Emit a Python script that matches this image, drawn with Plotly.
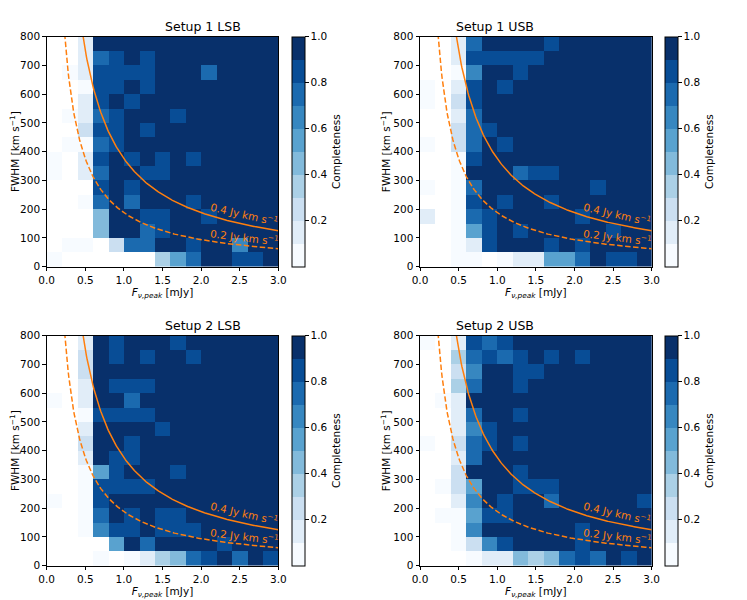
import numpy as np
import plotly.graph_objects as go
from plotly.subplots import make_subplots

# bin centres: peak flux density [mJy] and FWHM [km/s] (rows listed top -> bottom)
flux_bins = [0.1, 0.3, 0.5, 0.7, 0.9, 1.1, 1.3, 1.5, 1.7, 1.9, 2.1, 2.3, 2.5, 2.7, 2.9]
fwhm_bins = [775, 725, 675, 625, 575, 525, 475, 425, 375, 325, 275, 225, 175, 125, 75, 25]

N = None  # empty bin

setup1_lsb = [
    [N, N, .15, 1, 1, 1, 1, 1, 1, 1, 1, 1, 1, 1, 1],
    [N, N, .15, .75, .85, 1, .85, 1, 1, 1, 1, 1, 1, 1, 1],
    [N, .05, .15, .85, .85, .85, .85, 1, 1, 1, .75, 1, 1, 1, 1],
    [N, N, .05, .85, .85, 1, .85, 1, 1, 1, 1, 1, 1, 1, 1],
    [N, N, .15, .85, 1, .85, 1, 1, 1, 1, 1, 1, 1, 1, 1],
    [N, .05, .15, .75, .85, 1, 1, 1, .85, 1, 1, 1, 1, 1, 1],
    [N, N, .25, .85, .85, 1, .85, 1, 1, 1, 1, 1, 1, 1, 1],
    [N, .05, .05, .75, .85, 1, 1, 1, 1, 1, 1, 1, 1, 1, 1],
    [.05, N, .15, .85, 1, .85, 1, .85, 1, .85, 1, 1, 1, 1, 1],
    [.05, N, .15, .75, 1, 1, .85, .85, 1, 1, 1, 1, 1, 1, 1],
    [N, N, N, .85, 1, .85, 1, 1, 1, 1, 1, 1, 1, 1, 1],
    [N, N, .05, .75, 1, .75, 1, 1, 1, .85, 1, 1, 1, 1, 1],
    [N, N, N, .45, 1, 1, .85, .85, 1, 1, .85, 1, 1, 1, 1],
    [N, N, N, .45, 1, 1, .75, .85, 1, 1, 1, 1, 1, 1, 1],
    [N, .05, .05, N, .25, .75, .75, 1, 1, .85, 1, 1, .65, 1, 1],
    [.05, N, N, N, N, N, N, .35, .55, .75, 1, 1, .85, .85, 1],
]

setup1_usb = [
    [N, N, .15, .75, 1, 1, 1, 1, .85, 1, 1, 1, 1, 1, 1],
    [N, N, .15, .85, .85, .85, .85, .85, 1, 1, 1, 1, 1, 1, 1],
    [N, N, .05, .65, 1, 1, .85, 1, 1, 1, 1, 1, 1, 1, 1],
    [.05, N, .15, .85, 1, .85, 1, 1, 1, 1, 1, 1, 1, 1, 1],
    [.05, N, .25, .85, 1, 1, 1, 1, 1, 1, 1, 1, 1, 1, 1],
    [N, N, .15, .75, 1, 1, 1, 1, 1, 1, 1, 1, 1, 1, 1],
    [N, N, .25, .75, .85, 1, 1, 1, 1, 1, 1, 1, 1, 1, 1],
    [.05, N, .25, .75, 1, .85, 1, 1, 1, 1, 1, 1, 1, 1, 1],
    [N, N, .05, .85, 1, 1, 1, 1, 1, 1, 1, 1, 1, 1, 1],
    [N, N, .05, 1, 1, 1, .75, .85, .85, 1, 1, 1, 1, 1, 1],
    [.05, N, .05, .75, 1, 1, 1, 1, 1, 1, 1, .85, 1, 1, 1],
    [N, N, .05, .85, 1, .85, 1, 1, .85, 1, 1, 1, 1, 1, 1],
    [.15, N, .05, .75, .85, 1, 1, 1, 1, 1, .85, 1, 1, 1, 1],
    [N, N, .05, .55, .85, 1, .85, 1, 1, 1, 1, 1, .85, 1, 1],
    [N, N, .05, .15, .85, 1, 1, 1, .85, 1, .85, 1, 1, 1, 1],
    [N, N, .05, .05, N, .05, .15, .15, .5, .55, .75, 1, .85, .85, 1],
]

setup2_lsb = [
    [N, N, .15, 1, .85, 1, 1, 1, .85, 1, 1, 1, 1, 1, 1],
    [N, N, .25, 1, .85, 1, .85, 1, 1, .85, 1, 1, 1, 1, 1],
    [N, N, .25, 1, 1, 1, 1, 1, 1, 1, 1, 1, 1, 1, 1],
    [N, N, .15, 1, .85, .85, .85, 1, 1, 1, 1, 1, 1, 1, 1],
    [.05, N, .15, 1, 1, .75, 1, 1, 1, 1, 1, 1, 1, 1, 1],
    [N, N, .05, .85, .85, .85, .85, 1, 1, 1, 1, 1, 1, 1, 1],
    [N, N, .15, 1, 1, 1, 1, .85, 1, 1, 1, 1, 1, 1, 1],
    [N, N, .25, 1, 1, .85, 1, 1, 1, 1, 1, 1, 1, 1, 1],
    [N, N, .15, 1, .85, .85, 1, 1, 1, 1, 1, 1, 1, 1, 1],
    [N, N, .05, .55, .85, 1, 1, 1, .85, 1, 1, 1, 1, 1, 1],
    [N, N, .05, .85, .85, .85, .85, 1, 1, 1, 1, 1, 1, 1, 1],
    [.05, N, .05, .85, 1, 1, 1, 1, 1, 1, 1, 1, 1, 1, 1],
    [N, N, .05, .75, 1, .85, 1, .85, .85, 1, 1, 1, 1, 1, 1],
    [N, N, .05, .65, .85, .85, 1, .85, .85, .85, 1, 1, 1, 1, 1],
    [N, N, N, N, .55, 1, .75, 1, 1, 1, 1, .85, 1, 1, 1],
    [N, N, N, .05, N, .05, .15, .35, .45, .75, .85, 1, .75, 1, .85],
]

setup2_usb = [
    [.05, N, .15, .85, .75, .85, 1, 1, 1, 1, 1, 1, 1, 1, 1],
    [N, N, .35, .75, .85, .75, .85, 1, .85, 1, .85, 1, 1, 1, 1],
    [N, N, .25, .65, 1, 1, .85, .85, 1, 1, 1, 1, 1, 1, 1],
    [N, N, .35, .75, 1, 1, .85, 1, 1, 1, 1, 1, 1, 1, 1],
    [N, .05, .15, 1, 1, 1, 1, 1, 1, 1, 1, 1, 1, 1, 1],
    [N, N, .15, .75, 1, 1, .85, 1, 1, 1, 1, 1, 1, 1, 1],
    [N, N, .15, .65, .85, 1, 1, 1, 1, 1, 1, 1, 1, 1, 1],
    [.05, N, .25, .75, .85, 1, .85, 1, 1, 1, 1, 1, 1, 1, 1],
    [N, N, .15, .75, 1, 1, 1, 1, 1, 1, 1, 1, 1, 1, 1],
    [N, N, .25, 1, 1, 1, .85, 1, 1, 1, 1, 1, 1, 1, 1],
    [N, .05, .25, .55, 1, 1, .85, .85, .85, 1, 1, 1, 1, 1, 1],
    [N, N, .15, .65, 1, .85, 1, 1, .75, 1, 1, 1, 1, 1, .85],
    [N, .05, .05, .55, .85, .85, 1, 1, 1, 1, 1, 1, 1, 1, 1],
    [N, N, .05, .65, 1, 1, 1, 1, 1, 1, .85, 1, 1, 1, 1],
    [N, N, .05, .25, .65, .85, 1, 1, 1, 1, .85, 1, 1, 1, 1],
    [N, N, N, .05, .15, .15, .45, .35, .45, .75, .85, .75, 1, .85, 1],
]

panel_titles = ["Setup 1 LSB", "Setup 1 USB", "Setup 2 LSB", "Setup 2 USB"]
panel_grids = [setup1_lsb, setup1_usb, setup2_lsb, setup2_usb]

# constant integrated line flux curves [Jy km/s]
line_fluxes = [0.4, 0.2]
line_labels = ["0.4 Jy km s<sup>−1</sup>", "0.2 Jy km s<sup>−1</sup>"]

# matplotlib "Blues" sampled in 10 steps
blues10 = ["#f7fbff", "#e1edf8", "#cbdff1", "#abd0e6", "#82badb",
           "#59a2cf", "#3787c0", "#1b6aaf", "#084d96", "#08306b"]
cscale = []
for i, c in enumerate(blues10):
    cscale.append([i / 10, c])
    cscale.append([(i + 1) / 10, c])

orange = "#ff7f0e"
font = "DejaVu Sans"

W, H = 747, 600
OFF = 8  # page body margin shifts the figure by this many px


def px_x(p):
    return (p - OFF) / W


def px_y(p):
    return 1 - (p - OFF) / H


# panel boxes in page pixels
xdom = [[px_x(46.7), px_x(278.3)], [px_x(420), px_x(651.7)]]
ydom = [[px_y(266.7), px_y(36.7)], [px_y(565.7), px_y(335.7)]]
cbar_x = [px_x(292.3), px_x(665)]
title_y = [px_y(26), px_y(325)]

fig = make_subplots(rows=2, cols=2)

flux_curve = np.linspace(0.05, 3.0, 300)

for k, (title, grid) in enumerate(zip(panel_titles, panel_grids)):
    r, c = k // 2, k % 2
    fig.add_trace(go.Heatmap(
        x=flux_bins, y=fwhm_bins, z=grid, zmin=0, zmax=1,
        colorscale=cscale, hoverongaps=False,
        colorbar=dict(
            x=cbar_x[c], xanchor="left", xpad=0, y=sum(ydom[r]) / 2,
            yanchor="middle", len=ydom[r][1] - ydom[r][0], lenmode="fraction",
            thickness=13, ypad=0, outlinecolor="black", outlinewidth=1,
            ticks="outside", ticklen=3.5, tickwidth=0.8, tickcolor="black",
            tickvals=[0.2, 0.4, 0.6, 0.8, 1.0], tickformat=".1f",
            tickfont=dict(size=10.5, color="black", family=font),
            title=dict(text="Completeness", side="right",
                       font=dict(size=10.5, color="black", family=font)),
        ),
    ), row=r + 1, col=c + 1)

    for flux, dash in zip(line_fluxes, ["solid", "5.5px,2.5px"]):
        fig.add_trace(go.Scatter(
            x=flux_curve, y=flux * 1000 / (1.064 * flux_curve), mode="lines",
            line=dict(color=orange, width=1.5, dash=dash),
            showlegend=False, hoverinfo="skip",
        ), row=r + 1, col=c + 1)

    xa = "x" if k == 0 else f"x{k + 1}"
    ya = "y" if k == 0 else f"y{k + 1}"
    fig.add_annotation(x=2.56, y=186, xref=xa, yref=ya, text=line_labels[0],
                       showarrow=False, textangle=13,
                       font=dict(size=10.5, color=orange, family=font))
    fig.add_annotation(x=2.56, y=104, xref=xa, yref=ya, text=line_labels[1],
                       showarrow=False, textangle=7,
                       font=dict(size=10.5, color=orange, family=font))
    fig.add_annotation(x=sum(xdom[c]) / 2, y=title_y[r],
                       xref="paper", yref="paper", text=title,
                       showarrow=False, yanchor="middle",
                       font=dict(size=12.5, color="black", family=font))

    axis_common = dict(showline=True, linecolor="black", linewidth=1,
                       mirror=True, ticks="outside", ticklen=3.5, tickwidth=0.8,
                       tickcolor="black", showgrid=False, zeroline=False,
                       automargin=False,
                       tickfont=dict(size=10.5, color="black", family=font))
    fig.update_xaxes(domain=xdom[c], range=[0, 3], dtick=0.5, tickformat=".1f",
                     title=dict(text="<i>F</i><sub><i>ν,peak</i></sub> [mJy]",
                                standoff=2, font=dict(size=10.5, family=font)),
                     row=r + 1, col=c + 1, **axis_common)
    fig.update_yaxes(domain=ydom[r], range=[0, 800], dtick=100,
                     title=dict(text="FWHM [km s<sup>−1</sup>]", standoff=0,
                                font=dict(size=10.5, family=font)),
                     row=r + 1, col=c + 1, **axis_common)

fig.update_layout(
    width=W, height=H,
    margin=dict(l=0, r=0, t=0, b=0),
    plot_bgcolor="white", paper_bgcolor="white",
    font=dict(family=font, color="black"),
    showlegend=False,
)

fig.write_html("out.html")
